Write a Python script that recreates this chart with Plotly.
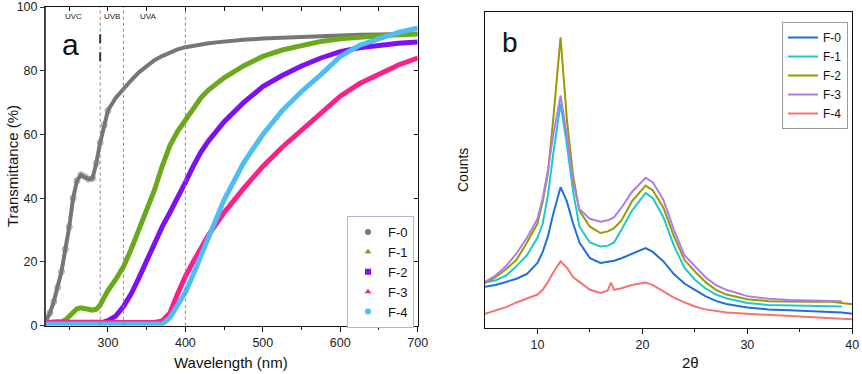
import plotly.graph_objects as go

# ---------------- Panel a: UV-Vis transmittance ----------------
wavelength = [220, 225, 230, 235, 240, 245, 250, 255, 260, 265, 270, 275, 280, 285, 290, 295, 300,
              310, 320, 330, 340, 350, 360, 370, 380, 390, 400, 410, 420, 430, 440, 450,
              475, 500, 525, 550, 575, 600, 625, 650, 675, 700]

t_f0 = [1.5, 4, 7.5, 12, 17, 24, 31, 40, 45.5, 47.3, 46.8, 46, 46.2, 51, 57.5, 63, 67.5,
        71.5, 74.5, 77, 79.5, 81.5, 83.3, 84.6, 85.7, 86.7, 87.4, 87.9, 88.3, 88.6, 88.9, 89.2,
        89.7, 90.1, 90.4, 90.7, 90.9, 91.1, 91.3, 91.4, 91.5, 91.6]
t_f1 = [1, 1, 1, 1.1, 1.3, 1.8, 2.8, 4.2, 5.3, 5.6, 5.3, 5, 4.9, 5.2, 6.5, 8.8, 11,
        14.5, 18.5, 24, 30, 36, 42.5, 50, 56.5, 61, 64.5, 68.5, 71.5, 74, 76, 77.8,
        81.5, 84.5, 86.5, 88, 89.2, 90, 90.6, 91, 91.3, 91.5]
t_f2 = [1, 1, 1, 1, 1, 1, 1, 1, 1, 1, 1, 1, 1, 1, 1, 1.2, 1.6,
        3, 6, 10, 15, 20.5, 26, 31, 35.5, 40, 45, 50, 54.5, 58, 61, 64,
        70, 75, 78.5, 81.5, 84, 86, 87.2, 88, 88.6, 89]
t_f3 = [1, 1, 1, 1, 1, 1, 1, 1, 1, 1, 1, 1, 1, 1, 1, 1, 1,
        1, 1, 1, 1, 1, 1, 1.5, 4, 10, 15.5, 20, 24.5, 28.5, 32, 35.5,
        43, 50, 56, 61.5, 67, 72, 76, 79, 81.8, 84]
t_f4 = [0.5, 0.5, 0.5, 0.5, 0.5, 0.5, 0.5, 0.5, 0.5, 0.5, 0.5, 0.5, 0.5, 0.5, 0.5, 0.5, 0.5,
        0.5, 0.5, 0.5, 0.5, 0.5, 0.5, 0.5, 2.5, 6.5, 10.5, 16, 22, 28, 34, 39.5,
        51, 60, 67.5, 73.5, 78.8, 84.5, 88, 90.2, 92, 93.4]

uv_names = ["F-0", "F-1", "F-2", "F-3", "F-4"]
uv_colors = ["#767676", "#6aa81c", "#7f10f5", "#ff1f8a", "#4fbdf5"]
uv_symbols = ["circle", "triangle-up", "square", "triangle-up", "circle"]
uv_regions = ["UVC", "UVB", "UVA"]
uv_region_x = [255, 305, 352]
uv_bounds = [290, 320, 400]

# ---------------- Panel b: XRD ----------------
two_theta = [5, 6, 7, 8, 9, 10, 10.5, 11, 11.5, 12.2, 12.8, 13.4, 14,
             15, 16, 16.7, 17, 17.3, 18, 19, 20.3, 21, 22, 23, 24, 25, 26, 27, 28,
             30, 32, 34, 36, 38, 39, 40]
c_f0 = [13, 13.5, 14.5, 15.5, 17, 20.5, 24, 29, 36, 44.5, 40, 33, 27,
        22, 20.5, 20.8, 21, 21.2, 22, 23.5, 25.2, 24, 21, 17, 14, 12, 10, 8.5, 7.5,
        6.4, 5.8, 5.5, 5.3, 5.0, 4.8, 4.4]
c_f1 = [14.3, 15, 16.5, 19.5, 23, 28.5, 33, 42, 55, 71, 58, 43, 32,
        27, 25.7, 26, 26.5, 27, 31, 37, 42.7, 41, 35, 26, 19, 15.2, 12.5, 10.5, 9.3,
        7.8, 7.2, 7.0, 6.8, 6.7, 6.7, None]
c_f2 = [14.2, 16, 18.5, 21.5, 27, 33, 40, 49, 66, 92, 66, 48, 37,
        32, 30, 30.5, 31, 31.5, 34, 40, 45, 43.5, 38, 29, 21.5, 17.8, 14.5, 12, 10.5,
        9, 8.4, 8.2, 8.2, 8.2, 7.9, 7.4]
c_f3 = [14.5, 16.5, 19.5, 23.5, 28.5, 34.5, 41, 50, 61, 73.5, 61, 46, 37.5,
        34.5, 33.6, 34, 34.5, 35, 38, 43, 47.5, 46, 40.5, 31, 23, 19.4, 16, 13.5, 12,
        10, 9.2, 8.8, 8.6, 8.5, 8.4, None]
c_f4 = [4.4, 5.5, 6.5, 8, 9.3, 10.5, 12, 14.5, 17.5, 21, 19, 16, 14.5,
        12, 11, 11.8, 14.3, 12, 12.5, 13.5, 14.3, 13.5, 11.5, 9.5, 8, 6.7, 5.8, 5.2, 4.8,
        4.4, 4, 3.6, 3.2, 2.9, 2.8, 2.7]
xrd_colors = ["#1f6fdb", "#1ec8c8", "#9a9a00", "#b27ce8", "#f87272"]

W, H = 862, 374
FONT = "Arial, Liberation Sans, sans-serif"

def px(x):
    return x / W

def py(y):
    return 1 - y / H

fig = go.Figure()

uv_series = [t_f0, t_f1, t_f2, t_f3, t_f4]
for i, ys in enumerate(uv_series):
    if i == 0:
        fig.add_trace(go.Scatter(x=wavelength, y=ys, mode="lines+markers",
                                 line=dict(color=uv_colors[i], width=4),
                                 marker=dict(symbol="circle-open",
                                             size=[6 if w <= 300 else 0 for w in wavelength],
                                             color=uv_colors[i]),
                                 showlegend=False, xaxis="x", yaxis="y"))
    else:
        fig.add_trace(go.Scatter(x=wavelength, y=ys, mode="lines",
                                 line=dict(color=uv_colors[i], width=5),
                                 showlegend=False, xaxis="x", yaxis="y"))
for i, n in enumerate(uv_names):
    fig.add_trace(go.Scatter(x=[None], y=[None], mode="markers", name=n,
                             marker=dict(symbol=uv_symbols[i], size=6, color=uv_colors[i]),
                             xaxis="x", yaxis="y", legend="legend"))
# helper traces for the mirrored tick axes
fig.add_trace(go.Scatter(x=[None], y=[None], xaxis="x3", yaxis="y", showlegend=False))
fig.add_trace(go.Scatter(x=[None], y=[None], xaxis="x", yaxis="y3", showlegend=False))

xrd_series = [c_f0, c_f1, c_f2, c_f3, c_f4]
for i, ys in enumerate(xrd_series):
    fig.add_trace(go.Scatter(x=two_theta, y=ys, mode="lines", name=uv_names[i],
                             line=dict(color=xrd_colors[i], width=2),
                             xaxis="x2", yaxis="y2", legend="legend2"))

dom_xa = [px(46), px(417.7)]
dom_ya = [py(325.7), py(7)]
dom_xb = [px(485), px(852.3)]
dom_yb = [py(327.7), py(12)]

axfont = dict(family=FONT, size=12.5, color="#222")

shapes = []
for b in uv_bounds:
    shapes.append(dict(type="line", xref="x", yref="y", x0=b, x1=b, y0=0, y1=100,
                       line=dict(color="#8a8a8a", width=1, dash="dot")))
shapes.append(dict(type="line", xref="x", yref="y", x0=290, x1=290, y0=83, y1=92,
                   line=dict(color="#333", width=2, dash="dash")))

annotations = []
for lab, xv in zip(uv_regions, uv_region_x):
    annotations.append(dict(text=lab, x=xv, y=97, xref="x", yref="y", showarrow=False,
                            xanchor="center", yanchor="middle",
                            font=dict(family=FONT, size=8, color="#222")))

def paper_text(text, x, y, size, angle=0):
    return dict(text=text, x=px(x), y=py(y), xref="paper", yref="paper", showarrow=False,
                xanchor="center", yanchor="middle", textangle=angle,
                font=dict(family=FONT, size=size, color="#111"))

annotations += [
    paper_text("a", 70, 44, 30),
    paper_text("b", 510, 42, 28),
    paper_text("Transmittance (%)", 12, 166, 15, -90),
    paper_text("Wavelength (nm)", 231, 362, 15),
    paper_text("Counts", 463, 170, 14, -90),
    paper_text("2θ", 690, 362, 15),
]

fig.update_layout(
    template="none",
    width=W, height=H, margin=dict(l=0, r=0, t=0, b=0, autoexpand=False),
    paper_bgcolor="white", plot_bgcolor="white",
    font=dict(family=FONT),
    xaxis=dict(domain=dom_xa, anchor="y", range=[220, 700], tickvals=[300, 400, 500, 600, 700],
               ticks="outside", ticklen=5, tickcolor="#111", showline=True, linecolor="#111",
               linewidth=1.3, showgrid=False, zeroline=False, tickfont=axfont, automargin=False,
               minor=dict(tickvals=[250, 350, 450, 550, 650], ticks="outside", ticklen=3,
                          tickcolor="#111", showgrid=False)),
    yaxis=dict(domain=dom_ya, anchor="x", range=[0, 100], dtick=20, ticks="outside",
               ticklen=4, tickcolor="#333", showline=True, linecolor="#444", linewidth=2,
               showgrid=False, zeroline=False, tickfont=axfont, automargin=False),
    xaxis3=dict(overlaying="x", anchor="y", side="top", range=[220, 700],
                tickvals=[250, 300, 350, 400, 450, 500, 550, 600, 650], ticks="inside", ticklen=4,
                tickcolor="#111", showticklabels=False, showline=True, linecolor="#111",
                linewidth=1, showgrid=False, zeroline=False, automargin=False),
    yaxis3=dict(overlaying="y", anchor="x", side="right", range=[0, 100], dtick=20,
                ticks="inside", ticklen=4, tickcolor="#111", showticklabels=False,
                showline=True, linecolor="#111", linewidth=1, showgrid=False, zeroline=False,
                automargin=False),
    xaxis2=dict(domain=dom_xb, anchor="y2", range=[5, 40], tickvals=[10, 20, 30, 40],
                ticks="outside", ticklen=5, tickcolor="#111", showline=True, mirror=True,
                linecolor="#111", linewidth=1.3, showgrid=False, zeroline=False, tickfont=axfont,
                automargin=False,
                minor=dict(tickvals=[15, 25, 35], ticks="outside", ticklen=3,
                           tickcolor="#111", showgrid=False)),
    yaxis2=dict(domain=dom_yb, anchor="x2", range=[0, 100], showticklabels=False, ticks="",
                showline=True, mirror=True, linecolor="#111", linewidth=1.3,
                showgrid=False, zeroline=False, automargin=False),
    legend=dict(x=px(347), y=py(216), xanchor="left", yanchor="top", bgcolor="white",
                bordercolor="#b4b4cc", borderwidth=1,
                font=dict(family=FONT, size=13, color="#111"), tracegroupgap=0),
    legend2=dict(x=px(782), y=py(22), xanchor="left", yanchor="top", bgcolor="white",
                 bordercolor="#9a9a9a", borderwidth=1,
                 font=dict(family=FONT, size=12, color="#111"), tracegroupgap=0),
    shapes=shapes, annotations=annotations,
)

fig.write_html("out.html", config={"displayModeBar": False},
               post_script="document.body.style.margin='0';document.body.style.overflow='hidden';")
